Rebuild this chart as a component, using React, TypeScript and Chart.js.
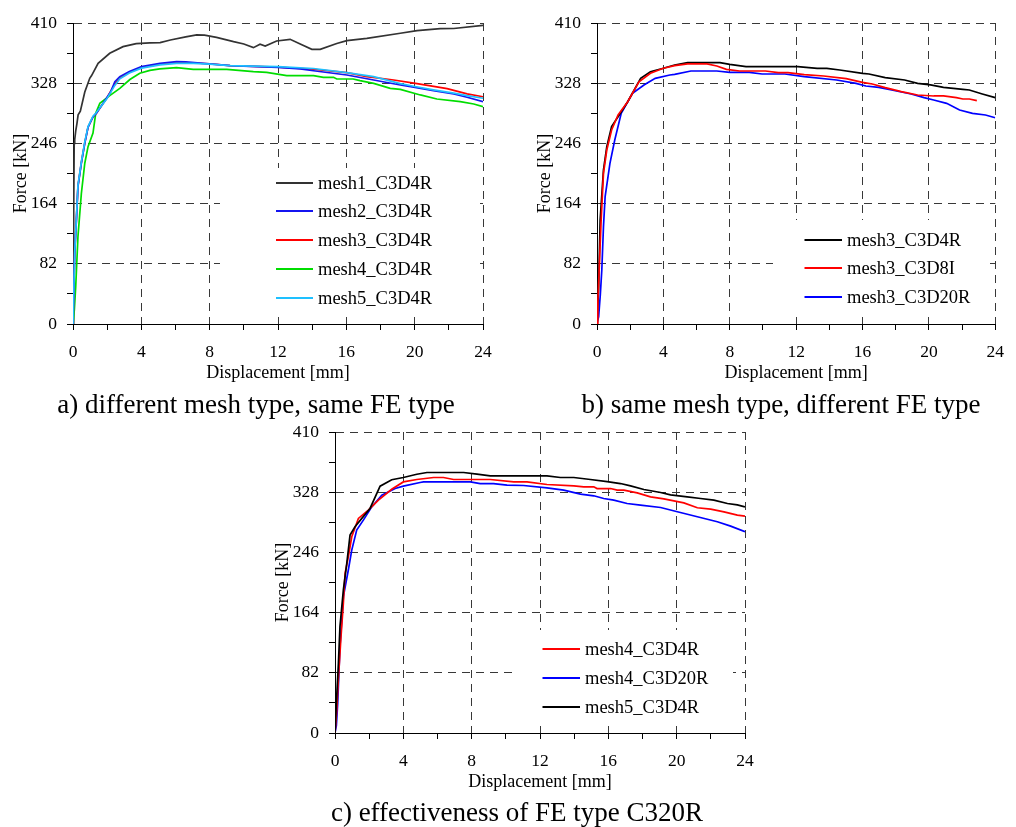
import React, { useEffect, useRef } from 'react';
import { Chart, registerables } from 'chart.js';

Chart.register(...registerables);

const FONT = '"Liberation Serif", "Times New Roman", Times, serif';
Chart.defaults.font.family = FONT;

// ---------- axis ticks ----------
const X_MIN = 0;
const X_MAX = 24;
const X_STEP = 2;
const X_LABEL_EVERY = 4;
const Y_MIN = 0;
const Y_MAX = 410;
const Y_STEP = 41;
const Y_LABEL_EVERY = 82;

// ---------- chart a) different mesh type, same FE type ----------
const a1X = [0, 0.04, 0.07, 0.1, 0.16, 0.23, 0.3, 0.43, 0.69, 0.98, 1.08, 1.47, 2.15, 2.93, 3.7, 4.5, 5.1, 5.7, 6.6, 7.24, 7.7, 8.4, 9.4, 10.0, 10.56, 10.95, 11.25, 11.92, 12.71, 13.3, 13.98, 14.47, 15.44, 16.03, 17.2, 19.16, 20.14, 21.5, 22.29, 24.0];
const a1Y = [0, 150, 246, 251, 263, 273, 285, 290, 316, 334.7, 338, 355, 368.8, 377.8, 382, 383, 383.2, 386.9, 391, 393.7, 393.5, 390.5, 384.6, 381.4, 376.4, 381, 378.7, 385.5, 387.8, 381.5, 374.1, 374.1, 382, 386, 389, 396, 399.6, 402.3, 402.5, 406.8];

const a2X = [0, 0.1, 0.2, 0.29, 0.49, 0.69, 0.88, 1.17, 1.37, 1.96, 2.2, 2.45, 2.74, 3.3, 4.01, 5.09, 6.06, 6.6, 7.62, 9.19, 12.0, 13.3, 14.08, 16.03, 17.6, 19.16, 20.02, 21.1, 22.29, 23.07, 24.0];
const a2Y = [0, 96, 142, 187, 219, 246, 268, 282, 287, 307.5, 316, 330, 337, 344, 350.5, 355, 357.3, 357, 355, 352, 349.5, 347.5, 345, 339.2, 332.4, 325.6, 322.4, 317.8, 313.3, 308.8, 302.8];

const a3X = [0, 0.1, 0.2, 0.29, 0.49, 0.69, 0.88, 1.17, 1.37, 1.96, 2.45, 2.74, 3.3, 4.01, 5.09, 6.06, 7.04, 8.0, 9.2, 12.0, 14.08, 16.03, 17.2, 18.77, 20.14, 21.9, 23.07, 24.0];
const a3Y = [0, 97, 143, 188, 220, 247, 268, 282, 287, 307, 327, 335, 343, 349.5, 354, 356, 355.5, 354.5, 352, 350, 347, 342.4, 337, 332.4, 327.5, 320.5, 313.5, 309.5];

const a4X = [0, 0.08, 0.16, 0.29, 0.49, 0.69, 0.88, 1.17, 1.33, 1.57, 2.15, 2.74, 3.33, 3.91, 4.5, 5.08, 6.06, 7.04, 9.0, 10.56, 11.34, 12.51, 14.08, 14.66, 15.25, 15.44, 16.4, 16.8, 17.6, 18.57, 19.16, 20.33, 21.3, 22.67, 23.46, 24.0];
const a4Y = [0, 20, 51, 119, 178, 219, 241.5, 260, 287, 300.6, 311, 321, 333, 341.5, 345.5, 347.4, 349.2, 346.9, 346.9, 343.7, 342.8, 338.3, 338.3, 336, 336, 333.7, 333.7, 331.5, 327.8, 321, 319.6, 312, 306.5, 302.8, 299.7, 296];

const a5X = [0, 0.1, 0.2, 0.29, 0.49, 0.69, 0.88, 1.17, 1.37, 1.96, 2.45, 2.74, 3.3, 4.01, 5.09, 6.06, 7.04, 8.0, 9.2, 12.0, 14.08, 16.03, 17.6, 19.16, 20.02, 21.1, 22.29, 23.07, 24.0];
const a5Y = [0, 98, 144, 189, 221, 248, 269, 283, 288, 306, 325, 334, 342, 348.5, 353, 355, 355, 354, 352, 350.5, 348, 342.4, 337, 327.5, 323.5, 319, 314.5, 311, 307.5];

// ---------- chart b) same mesh type, different FE type ----------
const b1X = [0, 0.1, 0.19, 0.39, 0.59, 0.88, 1.27, 1.85, 2.63, 3.22, 4.0, 4.68, 5.46, 7.41, 8.0, 8.98, 12.1, 13.27, 13.85, 14.63, 16.0, 16.39, 17.37, 18.54, 19.32, 20.1, 20.88, 22.05, 22.44, 23.22, 24.0];
const b1Y = [0, 51, 142, 210, 241.5, 269, 282.4, 302.8, 334.7, 343.7, 348.3, 352.8, 356, 356, 353.7, 350.5, 350.5, 348.3, 348.3, 346, 341.5, 340.5, 335.5, 332.4, 327.8, 325.6, 322.4, 319.6, 318.7, 313.3, 308.3];

const b2X = [0, 0.05, 0.13, 0.25, 0.39, 0.59, 0.88, 1.27, 1.85, 2.53, 3.22, 4.0, 4.68, 5.46, 6.63, 7.22, 7.8, 8.59, 10.15, 10.93, 11.51, 12.49, 13.66, 15.02, 16.0, 16.59, 17.37, 18.34, 19.32, 20.29, 20.88, 21.66, 22.05, 22.44, 22.89];
const b2Y = [0, 30, 73.6, 141.7, 205, 237, 264.3, 284.7, 302.8, 330, 341.5, 348.3, 352, 354.2, 354.2, 351.4, 346.9, 344.6, 344.6, 342.4, 342.4, 339.6, 337.8, 334.2, 329.2, 326.9, 321.9, 316.5, 311.9, 310.6, 310.6, 308.3, 306.5, 306.5, 304.2];

const b3X = [0, 0.1, 0.2, 0.29, 0.39, 0.49, 0.78, 1.07, 1.46, 2.14, 2.83, 3.51, 4.39, 4.68, 5.66, 7.22, 8.0, 9.17, 9.95, 11.32, 12.49, 14.44, 15.61, 16.2, 16.98, 17.76, 18.93, 19.71, 20.29, 21.07, 21.85, 22.63, 23.41, 24.0];
const b3Y = [0, 10, 40, 73.6, 132.6, 173.4, 218.9, 250.6, 287, 314.3, 325.6, 334.6, 339.2, 340, 344.6, 344.6, 342.8, 342.8, 340.5, 340.5, 336.9, 332.4, 327.8, 324.2, 322.4, 318.7, 313.3, 308.3, 305.1, 300.6, 291.5, 287, 284.7, 281];

// ---------- chart c) effectiveness of FE type ----------
const c1X = [0, 0.1, 0.2, 0.35, 0.49, 0.59, 0.78, 0.98, 1.37, 1.95, 2.54, 3.32, 4.0, 4.79, 5.77, 6.35, 6.94, 9.09, 10.46, 11.24, 12.41, 13.98, 14.56, 15.15, 15.34, 16.13, 16.52, 16.91, 17.69, 18.47, 19.25, 20.42, 21.21, 21.99, 22.77, 23.55, 24.0];
const c1Y = [0, 30, 75, 131, 177, 217.5, 240, 267.3, 292.3, 303.6, 317.2, 332, 342, 345.3, 348, 348, 345.3, 345.3, 342, 342, 338.5, 336.7, 335.3, 335.3, 333, 333, 330.8, 330.8, 327.1, 321.7, 319, 313.5, 306.8, 305, 301.3, 296.8, 295.4];

const c2X = [0, 0.08, 0.16, 0.29, 0.49, 0.78, 0.98, 1.27, 1.66, 2.15, 2.74, 3.52, 4.0, 4.98, 5.18, 7.92, 8.5, 9.28, 10.07, 11.04, 12.41, 13.39, 14.37, 15.15, 15.73, 16.32, 17.1, 17.88, 19.06, 20.04, 21.21, 22.38, 23.16, 24.0];
const c2Y = [0, 10, 40.8, 117.7, 185.7, 222, 249.2, 276.4, 290, 308, 324, 333.1, 336.2, 341.2, 342, 342, 339.8, 339.8, 337.6, 337.1, 333.9, 330.8, 325.3, 323.1, 319.4, 317.2, 312.6, 310.4, 307.2, 301.3, 294.5, 287.7, 281.8, 274.1];

const c3X = [0, 0.1, 0.2, 0.29, 0.49, 0.69, 0.88, 1.17, 1.57, 2.05, 2.64, 3.32, 4.0, 4.79, 5.38, 7.53, 8.31, 9.09, 12.41, 13.19, 13.98, 14.95, 15.93, 16.71, 17.3, 18.08, 19.06, 19.64, 20.62, 21.4, 22.18, 22.97, 23.55, 24.0];
const c3Y = [0, 50, 95, 145, 195, 231, 269.6, 280.9, 292.3, 305.9, 336.2, 345, 348, 352.5, 354.8, 354.8, 352.5, 350.2, 350.2, 348, 348, 345.3, 342.5, 339.8, 336.6, 331.7, 327.6, 324.4, 321.7, 319.4, 317.2, 312.6, 310.8, 308.1];

type Series = { label: string; x: number[]; y: number[]; color: string; order: number };

const seriesA: Series[] = [
  { label: 'mesh1_C3D4R', x: a1X, y: a1Y, color: '#333333', order: 5 },
  { label: 'mesh2_C3D4R', x: a2X, y: a2Y, color: '#1414f0', order: 2 },
  { label: 'mesh3_C3D4R', x: a3X, y: a3Y, color: '#ff0000', order: 3 },
  { label: 'mesh4_C3D4R', x: a4X, y: a4Y, color: '#00dd00', order: 4 },
  { label: 'mesh5_C3D4R', x: a5X, y: a5Y, color: '#1ec0ff', order: 1 },
];
const seriesB: Series[] = [
  { label: 'mesh3_C3D4R', x: b1X, y: b1Y, color: '#000000', order: 2 },
  { label: 'mesh3_C3D8I', x: b2X, y: b2Y, color: '#ff0000', order: 1 },
  { label: 'mesh3_C3D20R', x: b3X, y: b3Y, color: '#0000ff', order: 3 },
];
const seriesC: Series[] = [
  { label: 'mesh4_C3D4R', x: c1X, y: c1Y, color: '#ff0000', order: 2 },
  { label: 'mesh4_C3D20R', x: c2X, y: c2Y, color: '#0000ff', order: 3 },
  { label: 'mesh5_C3D4R', x: c3X, y: c3Y, color: '#000000', order: 1 },
];

// ---------- geometry ----------
const Y_AXIS_W = 73;
const PLOT_W = 410;
const PLOT_H = 301;
const PAD_TOP = 23;
const GRID = '#383838';

type LegendOpts = {
  box: [number, number, number, number];
  lineX: [number, number];
  textX: number;
  rowY: number;
  rowGap: number;
  fontSize: number;
};

const boxLegend = {
  id: 'boxLegend',
  beforeDatasetsDraw(chart: any, _args: any, opts: LegendOpts) {
    if (!opts || !opts.box) return;
    const { ctx, chartArea } = chart;
    const L = chartArea.left;
    const T = chartArea.top;
    ctx.save();
    ctx.fillStyle = '#ffffff';
    ctx.fillRect(L + opts.box[0], T + opts.box[1], opts.box[2] - opts.box[0], opts.box[3] - opts.box[1]);
    ctx.font = `${opts.fontSize}px ${FONT}`;
    ctx.textBaseline = 'middle';
    ctx.textAlign = 'left';
    chart.data.datasets.forEach((ds: any, i: number) => {
      const y = Math.round(T + opts.rowY + i * opts.rowGap);
      ctx.strokeStyle = ds.borderColor;
      ctx.lineWidth = 2;
      ctx.beginPath();
      ctx.moveTo(L + opts.lineX[0], y);
      ctx.lineTo(L + opts.lineX[1], y);
      ctx.stroke();
      ctx.fillStyle = '#000';
      ctx.fillText(ds.label, L + opts.textX, y + 1);
    });
    ctx.restore();
  },
};

function gridColor(every: number) {
  return (c: any) => {
    const v = c.tick ? c.tick.value : undefined;
    if (v === undefined || v === 0) return 'rgba(0,0,0,0)';
    return Math.abs(v % every) < 1e-6 ? GRID : 'rgba(0,0,0,0)';
  };
}

function FEChart(props: { series: Series[]; left: number; top: number; width: number; height: number; legend: LegendOpts }) {
  const { series, left, top, width, height, legend } = props;
  const ref = useRef<HTMLCanvasElement>(null);
  useEffect(() => {
    const canvas = ref.current;
    if (!canvas) return;
    const chart = new Chart(canvas, {
      type: 'line',
      data: {
        datasets: series.map((s) => ({
          label: s.label,
          data: s.x.map((x, i) => ({ x, y: s.y[i] })),
          borderColor: s.color,
          backgroundColor: s.color,
          borderWidth: 1.7,
          pointRadius: 0,
          tension: 0,
          fill: false,
          order: s.order,
        })),
      },
      options: {
        responsive: false,
        maintainAspectRatio: false,
        animation: false,
        devicePixelRatio: 1,
        layout: { padding: { left: 0, top: PAD_TOP, right: width - Y_AXIS_W - PLOT_W, bottom: 0 } },
        plugins: {
          legend: { display: false },
          tooltip: { enabled: false },
          boxLegend: legend,
        } as any,
        scales: {
          x: {
            type: 'linear',
            min: X_MIN,
            max: X_MAX,
            afterFit: (s: any) => {
              s.height = height - PAD_TOP - PLOT_H;
            },
            ticks: {
              stepSize: X_STEP,
              autoSkip: false,
              maxRotation: 0,
              minRotation: 0,
              padding: 12,
              color: '#000',
              font: { family: FONT, size: 17.5 },
              callback: (v: any) => (Number(v) % X_LABEL_EVERY === 0 ? String(v) : ''),
            },
            grid: {
              color: gridColor(X_LABEL_EVERY),
              tickColor: '#000',
              tickLength: 6,
              tickWidth: 1,
              lineWidth: 1,
            },
            border: { display: true, color: '#000', width: 1, dash: [8, 6] },
            title: {
              display: true,
              text: 'Displacement [mm]',
              color: '#000',
              font: { family: FONT, size: 18 },
              padding: { top: 0, bottom: 11 },
            },
          },
          y: {
            type: 'linear',
            min: Y_MIN,
            max: Y_MAX,
            afterFit: (s: any) => {
              s.width = Y_AXIS_W;
            },
            ticks: {
              stepSize: Y_STEP,
              autoSkip: false,
              padding: 10,
              color: '#000',
              font: { family: FONT, size: 17.5 },
              callback: (v: any) => (Number(v) % Y_LABEL_EVERY === 0 ? String(v) : ''),
            },
            grid: {
              color: gridColor(Y_LABEL_EVERY),
              tickColor: '#000',
              tickLength: 6,
              tickWidth: 1,
              lineWidth: 1,
            },
            border: { display: true, color: '#000', width: 1, dash: [8, 6] },
            title: {
              display: true,
              text: 'Force [kN]',
              color: '#000',
              font: { family: FONT, size: 18 },
              padding: { top: 10, bottom: 0 },
            },
          },
        },
      } as any,
      plugins: [boxLegend as any],
    });
    return () => chart.destroy();
  }, []);
  return (
    <canvas
      ref={ref}
      width={width}
      height={height}
      style={{ position: 'absolute', left, top, width, height, display: 'block' }}
    />
  );
}

const captionStyle = (left: number, top: number): React.CSSProperties => ({
  position: 'absolute',
  left,
  top,
  width: 500,
  textAlign: 'center',
  fontFamily: FONT,
  fontSize: 27,
  lineHeight: '28px',
  whiteSpace: 'nowrap',
  color: '#000',
});

const legendA: LegendOpts = { box: [147, 145, 407, 290], lineX: [203, 240], textX: 245, rowY: 159.7, rowGap: 28.75, fontSize: 18.5 };
const legendB: LegendOpts = { box: [176, 197, 393, 290], lineX: [207.5, 245], textX: 250, rowY: 216.5, rowGap: 28.8, fontSize: 18.5 };
const legendC: LegendOpts = { box: [178, 198, 398, 290], lineX: [207.5, 245], textX: 250, rowY: 216.5, rowGap: 29, fontSize: 18.5 };

export default function App() {
  return (
    <div style={{ position: 'absolute', left: 0, top: 0, width: 1016, height: 827, overflow: 'hidden', background: '#fff' }}>
      <FEChart series={seriesA} left={0} top={0} width={510} height={395} legend={legendA} />
      <FEChart series={seriesB} left={524} top={0} width={492} height={395} legend={legendB} />
      <FEChart series={seriesC} left={262} top={409} width={510} height={395} legend={legendC} />
      <div style={captionStyle(6, 390)}>a) different mesh type, same FE type</div>
      <div style={captionStyle(531, 390)}>b) same mesh type, different FE type</div>
      <div style={captionStyle(267, 798)}>c) effectiveness of FE type C320R</div>
    </div>
  );
}
